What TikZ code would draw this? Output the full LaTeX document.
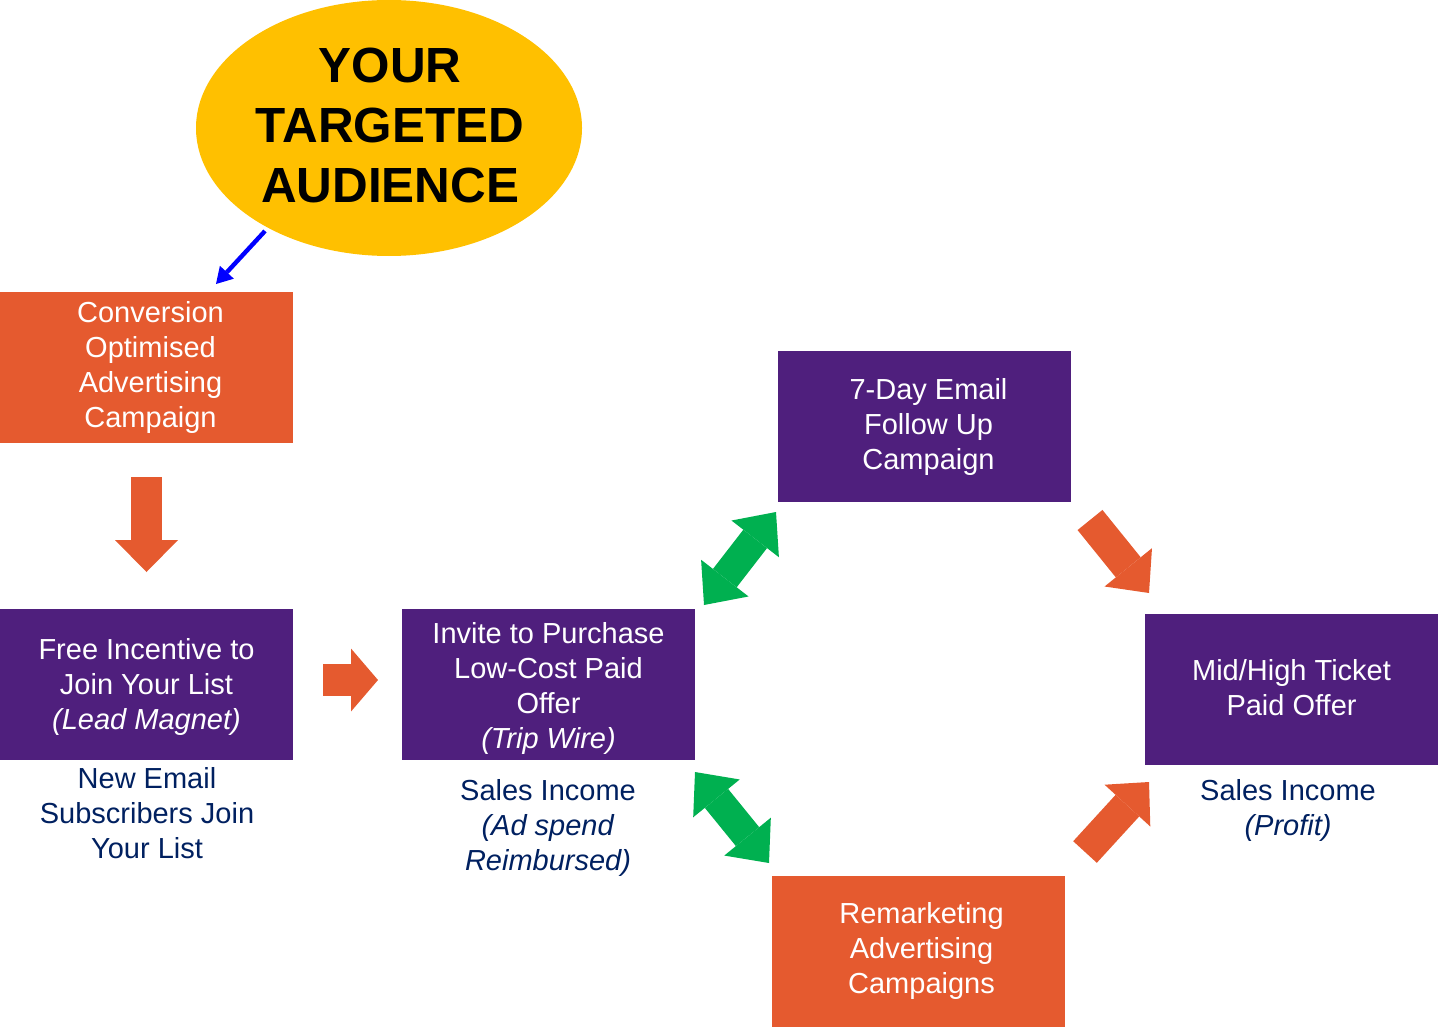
\documentclass[tikz,border=0pt]{standalone}
\usepackage{fontspec}
\setmainfont{Liberation Sans}
\usetikzlibrary{shapes.geometric,arrows.meta}
\definecolor{orng}{HTML}{E55A2F}
\definecolor{purp}{HTML}{4F1F7D}
\definecolor{navy}{HTML}{002060}
\definecolor{grn}{HTML}{00B050}
\definecolor{ylw}{HTML}{FFC000}
\tikzset{
  boxbase/.style={rectangle, minimum width=146.5pt, minimum height=75.5pt, inner sep=0pt, align=center, text=white, font=\fontsize{14.5pt}{17.5pt}\selectfont},
  obox/.style={boxbase, fill=orng},
  pbox/.style={boxbase, fill=purp},
  note/.style={align=center, text=navy, inner sep=0pt, font=\fontsize{14.5pt}{17.5pt}\selectfont},
  blockarr/.style={draw=#1, line width=15.5pt, line cap=butt},
}
\begin{document}
\begin{tikzpicture}[x=0.5pt,y=-0.5pt]
\useasboundingbox (0,0) rectangle (1438,1027);
% audience ellipse
\node[ellipse, fill=ylw, minimum width=193pt, minimum height=128pt, inner sep=0pt] (aud) at (389,128) {};
\node[align=center, inner sep=0pt, font=\fontsize{24.7pt}{29.8pt}\selectfont\bfseries] (audt) at (390,125.5) {YOUR\\TARGETED\\AUDIENCE};
% boxes
\node[obox] (conv) at (146.5,367) {\hspace*{4pt}Conversion\\\hspace*{4pt}Optimised\\\hspace*{4pt}Advertising\\\hspace*{4pt}Campaign};
\node[pbox] (free) at (146.5,684.5) {};
\node[pbox] (inv) at (548.5,684.5) {};
\node[pbox] (seven) at (924.5,426.5) {\hspace*{4pt}7-Day Email\\\hspace*{4pt}Follow Up\\\hspace*{4pt}Campaign};
\node[pbox] (mid) at (1291.5,689.5) {};
\node[obox] (rem) at (918.5,951) {\hspace*{3pt}Remarketing\\\hspace*{3pt}Advertising\\\hspace*{3pt}Campaigns};
\node[boxbase] (freet) at (146.5,686.5) {Free Incentive to\\Join Your List\\\textit{(Lead Magnet)}};
\node[boxbase] (invt) at (548.5,688) {Invite to Purchase\\Low-Cost Paid\\Offer\\\textit{(Trip Wire)}};
\node[boxbase] (midt) at (1291.5,687.5) {Mid/High Ticket\\Paid Offer};
% notes
\node[note] (n1) at (147,813) {New Email\\Subscribers Join\\Your List};
\node[note] (n2) at (548,828) {Sales Income\\\textit{(Ad spend}\\\textit{Reimbursed)}};
\node[note] (n3) at (1288,810.5) {Sales Income\\\textit{(Profit)}};
% arrow coordinates
\coordinate (b1) at (265,231); \coordinate (b2) at (216,284);
\coordinate (d1) at (146.5,477); \coordinate (d2) at (146.5,572);
\coordinate (r1) at (323,680); \coordinate (r2) at (378,680);
\coordinate (g1a) at (704,605); \coordinate (g1b) at (776,512);
\coordinate (g2a) at (695,772); \coordinate (g2b) at (769,863);
\coordinate (o1a) at (1090,520); \coordinate (o1b) at (1149,593);
\coordinate (o2a) at (1085,852); \coordinate (o2b) at (1149,782);
% arrows
\draw[blue, line width=2.2pt, -{Triangle[length=8pt,width=9.5pt,line width=0pt]}] (b1) -- (b2);
\draw[blockarr=orng, -{Triangle[length=16pt,width=31.5pt,line width=0pt]}] (d1) -- (d2);
\draw[blockarr=orng, line width=16pt, -{Triangle[length=13.5pt,width=31.5pt,line width=0pt]}] (r1) -- (r2);
\draw[blockarr=grn, line width=15pt, {Triangle[length=17pt,width=30pt,line width=0pt]}-{Triangle[length=17pt,width=30pt,line width=0pt]}] (g1a) -- (g1b);
\draw[blockarr=grn, line width=15pt, {Triangle[length=17pt,width=30pt,line width=0pt]}-{Triangle[length=17pt,width=30pt,line width=0pt]}] (g2a) -- (g2b);
\draw[blockarr=orng, line width=16pt, -{Triangle[length=16.5pt,width=30.5pt,line width=0pt]}] (o1a) -- (o1b);
\draw[blockarr=orng, line width=16pt, -{Triangle[length=16pt,width=31pt,line width=0pt]}] (o2a) -- (o2b);
\end{tikzpicture}
\end{document}
